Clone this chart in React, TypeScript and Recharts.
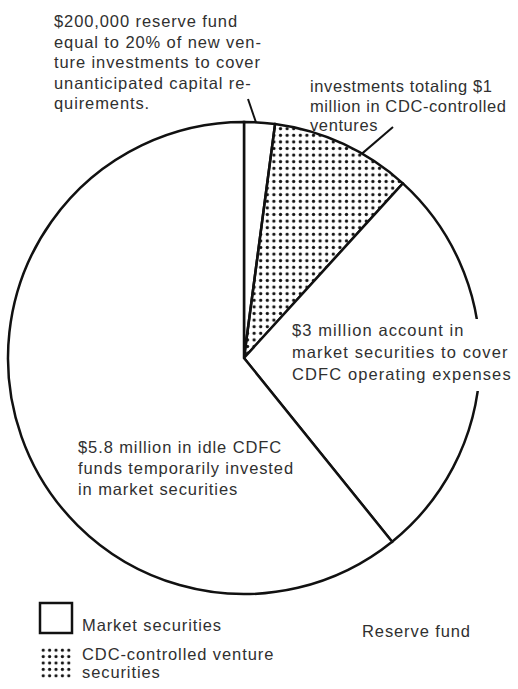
import React from 'react';
import { PieChart, Pie, Cell, Legend } from 'recharts';

// Slices, clockwise from 12 o'clock (shares of the pie, as drawn, in %)
const sliceNames = ['Reserve fund', 'CDC-controlled ventures', '$3 million operating account', 'Idle CDFC funds'];
const sliceShares = [2.1, 9.65, 27.45, 60.8];
const sliceKinds = ['reserve', 'venture', 'market', 'market'];

const annotationLines: string[][] = [
  ['$200,000 reserve fund', 'equal to 20% of new ven-', 'ture investments to cover', 'unanticipated capital re-', 'quirements.'],
  ['investments totaling $1', 'million in CDC-controlled', 'ventures'],
  ['$3 million account in', 'market securities to cover', 'CDFC operating expenses'],
  ['$5.8 million in idle CDFC', 'funds temporarily invested', 'in market securities'],
];
const legendLabels = ['Market securities', 'CDC-controlled venture', 'securities'];
const legendExtra = 'Reserve fund';

const data = sliceNames.map((name, i) => ({ name, value: sliceShares[i], kind: sliceKinds[i] }));

const FONT = '"Liberation Sans", Arial, Helvetica, sans-serif';
const TXT = '#303030';
const FS = 16.5;
const LS = 0.9;
const CX = 244;
const CY = 358;
const R = 236;

// annotation layout relative to pie centre
const annLayout = [
  { dx: -190, dy: -331, lh: 20.5, ls: 0.9, leader: { x: 4, y: -259, ang: 2.9 }, mask: false },
  { dx: 66, dy: -266, lh: 19.5, ls: 0.6, leader: { x: 149, y: -231, ang: 30 }, mask: false },
  { dx: 48, dy: -22, lh: 22, ls: 1.1, leader: null, mask: true },
  { dx: -166, dy: 95, lh: 21, ls: 0.9, leader: null, mask: false },
];

const renderLabel = (props: any) => {
  const { cx, cy, outerRadius, index } = props;
  const lay = annLayout[index];
  const lines = annotationLines[index];
  const x = cx + lay.dx;
  const y = cy + lay.dy;
  let leader = null;
  if (lay.leader) {
    const a = (lay.leader.ang * Math.PI) / 180;
    const ex = cx + outerRadius * Math.sin(a);
    const ey = cy - outerRadius * Math.cos(a);
    leader = <line x1={cx + lay.leader.x} y1={cy + lay.leader.y} x2={ex} y2={ey} stroke="#111" strokeWidth={2} />;
  }
  return (
    <g key={`ann-${index}`}>
      {index === 0 && (
        <defs>
          <pattern id="dots" width="6.6" height="6.6" patternUnits="userSpaceOnUse">
            <circle cx="3.3" cy="3.3" r="1.65" fill="#111" />
          </pattern>
        </defs>
      )}
      {lay.mask && <rect x={x - 4} y={y - 17} width={226} height={lay.lh * lines.length + 6} fill="#fff" />}
      {leader}
      <text x={x} y={y} fontFamily={FONT} fontSize={FS} letterSpacing={lay.ls} fill={TXT}>
        {lines.map((l, i) => (
          <tspan key={i} x={x} y={y + i * lay.lh}>
            {l}
          </tspan>
        ))}
      </text>
    </g>
  );
};

const LegendContent = () => (
  <svg width={518} height={89} style={{ display: 'block' }}>
    <defs>
      <pattern id="dotsLegend" x="40" y="47" width="6.4" height="6.4" patternUnits="userSpaceOnUse">
        <circle cx="3.2" cy="3.2" r="1.6" fill="#111" />
      </pattern>
    </defs>
    <rect x={40} y={3} width={32} height={30} fill="#fff" stroke="#111" strokeWidth={2.5} />
    <text x={82} y={31} fontFamily={FONT} fontSize={FS} letterSpacing={LS} fill={TXT}>
      {legendLabels[0]}
    </text>
    <rect x={40} y={47} width={32} height={32} fill="url(#dotsLegend)" />
    <text x={82} y={60} fontFamily={FONT} fontSize={FS} letterSpacing={LS} fill={TXT}>
      <tspan x={82} y={60}>{legendLabels[1]}</tspan>
      <tspan x={82} y={78}>{legendLabels[2]}</tspan>
    </text>
    <text x={362} y={37} fontFamily={FONT} fontSize={FS} letterSpacing={LS} fill={TXT}>
      {legendExtra}
    </text>
  </svg>
);

export default function App() {
  return (
    <div style={{ position: 'absolute', left: 0, top: 0, width: 518, height: 689, background: '#fff' }}>
      <PieChart width={518} height={689} margin={{ top: 0, right: 0, bottom: 0, left: 0 }}>
        <Pie
          data={data}
          dataKey="value"
          nameKey="name"
          cx={CX}
          cy={CY}
          innerRadius={0}
          outerRadius={R}
          startAngle={90}
          endAngle={-270}
          stroke="#111"
          strokeWidth={2.5}
          label={renderLabel}
          labelLine={false}
          isAnimationActive={false}
        >
          {data.map((d, i) => (
            <Cell key={i} fill={d.kind === 'venture' ? 'url(#dots)' : '#ffffff'} />
          ))}
        </Pie>
        <Legend
          content={() => <LegendContent />}
          wrapperStyle={{ position: 'absolute', left: 0, top: 600, width: 518, height: 89 }}
        />
      </PieChart>
    </div>
  );
}
